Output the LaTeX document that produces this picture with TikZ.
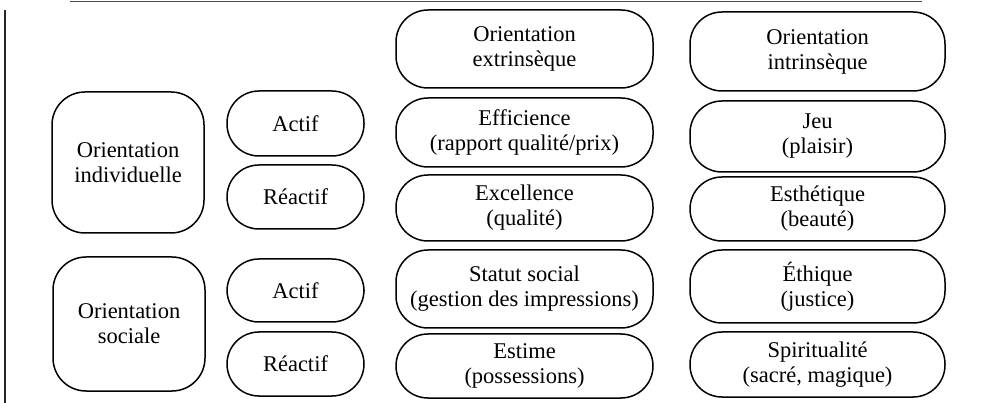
\documentclass[tikz,border=0pt]{standalone}
\usepackage{fontspec}
\setmainfont{Liberation Serif}
\begin{document}
\begin{tikzpicture}[x=1pt,y=-1pt,
  box/.style={draw=black,line width=1.5pt,align=center,inner sep=0pt,
    font=\fontsize{22.5}{25}\selectfont},
  big/.style={box,rounded corners=33pt},
  pill/.style={box,rounded corners=32pt}]
\useasboundingbox (0,0) rectangle (983,403);
% frame lines
\coordinate (tl) at (70,1.5);
\coordinate (tr) at (922,1.5);
\coordinate (lt) at (5,10);
\coordinate (lb) at (5,403);
\draw[line width=1pt,black!70] (tl) -- (tr);
\draw[line width=1.5pt,black!85] (lt) -- (lb);
% left column
\node[big,minimum width=152pt,minimum height=141pt] (oi) at (128,162.5) {Orientation\\individuelle};
\node[big,minimum width=152pt,minimum height=134pt] (os) at (129,324) {Orientation\\sociale};
% active/reactive
\node[pill,minimum width=137pt,minimum height=65pt] (a1) at (295.5,123.5) {Actif};
\node[pill,minimum width=137pt,minimum height=64pt] (r1) at (295.5,197) {R\'eactif};
\node[pill,minimum width=137pt,minimum height=63pt] (a2) at (295.5,290.5) {Actif};
\node[pill,minimum width=137pt,minimum height=64pt] (r2) at (295.5,364) {R\'eactif};
% extrinsic column
\node[pill,minimum width=257pt,minimum height=78pt] (e0) at (524.5,49) {Orientation\\extrins\`eque};
\node[pill,minimum width=257pt,minimum height=69pt] (e1) at (524.5,132.5) {Efficience\\(rapport qualit\'e/prix)};
\node[pill,minimum width=257pt,minimum height=66pt] (e2) at (524.5,208) {Excellence\\(qualit\'e)};
\node[pill,minimum width=257pt,minimum height=78pt] (e3) at (524.5,289) {Statut social\\(gestion des impressions)};
\node[pill,minimum width=257pt,minimum height=64pt] (e4) at (524.5,366) {Estime\\(possessions)};
% intrinsic column
\node[pill,minimum width=255pt,minimum height=79pt] (i0) at (817.5,51.5) {Orientation\\intrins\`eque};
\node[pill,minimum width=255pt,minimum height=71pt] (i1) at (817.5,136.5) {Jeu\\(plaisir)};
\node[pill,minimum width=255pt,minimum height=64pt] (i2) at (817.5,209) {Esth\'etique\\(beaut\'e)};
\node[pill,minimum width=255pt,minimum height=73pt] (i3) at (817.5,286.5) {\'Ethique\\(justice)};
\node[pill,minimum width=255pt,minimum height=65pt] (i4) at (817.5,364.5) {Spiritualit\'e\\(sacr\'e, magique)};
\end{tikzpicture}
\end{document}
